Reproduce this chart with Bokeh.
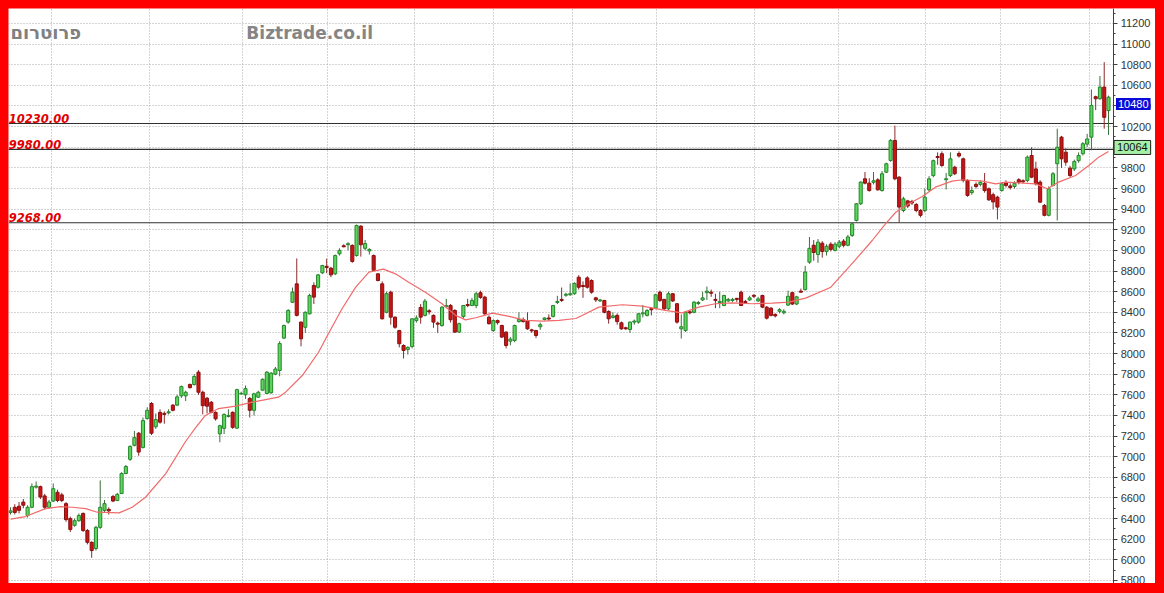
import numpy as np
from bokeh.plotting import figure
from bokeh.models import ColumnDataSource, Range1d, FixedTicker, Label, BoxAnnotation
from bokeh.embed import file_html
from bokeh.resources import INLINE

# ---------------- data ----------------
opens = [6460, 6510, 6520, 6560, 6430, 6510, 6705, 6710, 6620, 6510,
         6570, 6655, 6630, 6545, 6400, 6335, 6380, 6450, 6285, 6170,
         6110, 6315, 6480, 6490, 6615, 6575, 6643, 6837, 6975, 7110,
         7228, 7090, 7370, 7516, 7290, 7430, 7420, 7425, 7500, 7500,
         7590, 7590, 7700, 7700, 7820, 7625, 7567, 7528, 7430, 7222,
         7275, 7390, 7430, 7277, 7610, 7600, 7565, 7450, 7577, 7645,
         7613, 7620, 7800, 7836, 8150, 8305, 8497, 8676, 8305, 8255,
         8385, 8660, 8643, 8783, 8845, 8828, 8773, 8967, 9045, 9055,
         9048, 8950, 9235, 9020, 8995, 8950, 8773, 8676, 8400, 8595,
         8353, 8223, 8078, 8040, 8068, 8320, 8447, 8370, 8415, 8370,
         8295, 8272, 8455, 8466, 8418, 8208, 8360, 8475, 8466, 8466,
         8590, 8547, 8353, 8223, 8320, 8272, 8208, 8120, 8127, 8310,
         8330, 8320, 8230, 8223, 8260, 8330, 8345, 8360, 8495, 8525,
         8565, 8570, 8580, 8740, 8660, 8733, 8708, 8540, 8510, 8515,
         8408, 8350, 8370, 8298, 8250, 8233, 8305, 8305, 8385, 8370,
         8435, 8440, 8595, 8525, 8434, 8580, 8483, 8240, 8223, 8405,
         8400, 8485, 8520, 8590, 8595, 8525, 8495, 8466, 8510, 8515,
         8535, 8595, 8505, 8520, 8565, 8510, 8563, 8450, 8440, 8380,
         8410, 8395, 8470, 8590, 8480, 8605, 8620, 8886, 9050, 8960,
         9070, 8990, 9060, 9000, 9040, 9090, 9050, 9145, 9290, 9452,
         9694, 9652, 9660, 9684, 9580, 9758, 9872, 10066, 9710, 9387,
         9480, 9475, 9445, 9387, 9387, 9587, 9725, 9910, 9937, 9685,
         9725, 9807, 9940, 9888, 9678, 9560, 9640, 9640, 9650, 9597,
         9540, 9516, 9580, 9655, 9625, 9620, 9685, 9675, 9678, 9920,
         9790, 9662, 9436, 9340, 9630, 9840, 10098, 9952, 9797, 9790,
         9870, 9937, 10030, 10098, 10490, 10470, 10583, 10355]
highs = [6510, 6540, 6560, 6590, 6530, 6740, 6760, 6720, 6640, 6580,
         6740, 6680, 6650, 6560, 6420, 6400, 6450, 6460, 6300, 6180,
         6330, 6770, 6580, 6510, 6630, 6650, 6850, 6920, 7110, 7250,
         7240, 7380, 7480, 7530, 7420, 7460, 7440, 7460, 7510, 7600,
         7690, 7640, 7710, 7800, 7840, 7640, 7580, 7540, 7440, 7310,
         7420, 7460, 7440, 7660, 7630, 7690, 7580, 7620, 7640, 7760,
         7830, 7820, 7870, 8120, 8280, 8430, 8640, 8922, 8310, 8410,
         8580, 8690, 8770, 8860, 8920, 8840, 8960, 9020, 9060, 9080,
         9060, 9250, 9245, 9100, 9020, 8960, 8780, 8700, 8600, 8610,
         8360, 8230, 8090, 8070, 8340, 8370, 8480, 8530, 8430, 8380,
         8310, 8460, 8530, 8480, 8430, 8300, 8470, 8530, 8540, 8600,
         8610, 8560, 8370, 8330, 8330, 8280, 8215, 8160, 8280, 8400,
         8350, 8400, 8240, 8230, 8300, 8350, 8380, 8470, 8560, 8640,
         8590, 8680, 8690, 8760, 8700, 8750, 8720, 8550, 8530, 8520,
         8420, 8400, 8390, 8310, 8260, 8310, 8330, 8390, 8470, 8430,
         8450, 8580, 8610, 8530, 8600, 8585, 8490, 8380, 8410, 8420,
         8510, 8510, 8600, 8650, 8620, 8580, 8600, 8570, 8540, 8540,
         8540, 8610, 8520, 8560, 8575, 8550, 8570, 8460, 8450, 8390,
         8440, 8430, 8610, 8600, 8560, 8630, 8850, 9130, 9100, 9110,
         9090, 9060, 9080, 9080, 9100, 9110, 9150, 9270, 9460, 9670,
         9760, 9700, 9760, 9700, 9770, 9850, 10080, 10210, 9720, 9520,
         9490, 9490, 9460, 9400, 9600, 9720, 9880, 9950, 9960, 9750,
         9950, 9820, 9960, 9900, 9690, 9620, 9660, 9680, 9750, 9610,
         9560, 9530, 9660, 9680, 9650, 9670, 9700, 9690, 9920, 10000,
         9860, 9680, 9450, 9620, 9760, 10180, 10110, 9990, 9820, 9880,
         9950, 10050, 10130, 10560, 10500, 10690, 10825, 10500]
lows = [6440, 6440, 6450, 6500, 6410, 6500, 6690, 6590, 6490, 6500,
        6560, 6560, 6560, 6370, 6270, 6320, 6370, 6270, 6150, 6020,
        6090, 6300, 6460, 6440, 6560, 6570, 6640, 6830, 6960, 7100,
        7010, 7080, 7360, 7210, 7270, 7320, 7320, 7410, 7440, 7490,
        7570, 7540, 7660, 7690, 7600, 7410, 7420, 7420, 7350, 7140,
        7220, 7380, 7270, 7270, 7600, 7560, 7380, 7400, 7570, 7640,
        7610, 7610, 7790, 7780, 8140, 8290, 8490, 8360, 8070, 8200,
        8380, 8480, 8630, 8770, 8780, 8740, 8760, 8950, 9030, 9000,
        8880, 8940, 8940, 9000, 8960, 8800, 8700, 8330, 8390, 8280,
        8240, 8060, 7952, 7990, 8050, 8300, 8290, 8360, 8380, 8250,
        8200, 8260, 8440, 8300, 8200, 8200, 8340, 8450, 8460, 8440,
        8530, 8370, 8280, 8210, 8280, 8150, 8050, 8080, 8110, 8300,
        8300, 8230, 8200, 8150, 8230, 8320, 8320, 8350, 8480, 8500,
        8550, 8560, 8570, 8620, 8540, 8630, 8580, 8500, 8500, 8390,
        8290, 8340, 8280, 8230, 8230, 8200, 8280, 8290, 8350, 8360,
        8370, 8430, 8500, 8420, 8420, 8500, 8290, 8146, 8210, 8380,
        8390, 8470, 8510, 8520, 8550, 8440, 8440, 8460, 8500, 8500,
        8500, 8460, 8480, 8510, 8540, 8500, 8440, 8330, 8360, 8350,
        8390, 8380, 8460, 8470, 8470, 8590, 8610, 8870, 8900, 8880,
        8930, 8950, 8990, 8990, 9020, 9030, 9040, 9130, 9280, 9440,
        9640, 9570, 9640, 9580, 9570, 9750, 9860, 9680, 9270, 9370,
        9410, 9440, 9370, 9320, 9370, 9570, 9710, 9830, 9810, 9590,
        9710, 9730, 9900, 9660, 9520, 9540, 9600, 9620, 9560, 9480,
        9400, 9300, 9570, 9610, 9590, 9600, 9640, 9650, 9660, 9700,
        9630, 9460, 9330, 9330, 9620, 9290, 9800, 9820, 9710, 9770,
        9850, 9920, 10000, 9970, 10360, 10460, 10180, 10120]
closes = [6475, 6460, 6480, 6530, 6510, 6710, 6715, 6610, 6510, 6560,
          6690, 6575, 6575, 6390, 6295, 6380, 6430, 6285, 6170, 6090,
          6315, 6510, 6545, 6475, 6570, 6635, 6837, 6905, 7100, 7185,
          7045, 7350, 7450, 7228, 7360, 7335, 7410, 7435, 7450, 7580,
          7680, 7625, 7670, 7778, 7625, 7495, 7490, 7430, 7367, 7300,
          7410, 7400, 7285, 7650, 7615, 7660, 7450, 7610, 7625, 7750,
          7820, 7810, 7850, 8097, 8272, 8418, 8595, 8370, 8143, 8400,
          8563, 8547, 8763, 8854, 8835, 8763, 8950, 9000, 9035, 9065,
          8893, 9242, 9055, 9067, 9010, 8805, 8708, 8337, 8580, 8353,
          8255, 8095, 8030, 8060, 8337, 8345, 8353, 8508, 8405, 8305,
          8285, 8450, 8465, 8328, 8208, 8290, 8466, 8465, 8515, 8580,
          8545, 8386, 8290, 8320, 8300, 8160, 8078, 8140, 8272, 8330,
          8310, 8240, 8220, 8175, 8280, 8345, 8335, 8466, 8505, 8515,
          8575, 8580, 8680, 8643, 8650, 8643, 8595, 8520, 8520, 8400,
          8337, 8365, 8310, 8240, 8240, 8305, 8315, 8386, 8395, 8418,
          8425, 8570, 8515, 8434, 8580, 8510, 8305, 8260, 8400, 8395,
          8498, 8495, 8540, 8605, 8585, 8515, 8505, 8563, 8525, 8525,
          8525, 8466, 8495, 8540, 8555, 8530, 8450, 8343, 8370, 8365,
          8425, 8410, 8555, 8480, 8550, 8595, 8790, 9020, 8980, 9080,
          8990, 9040, 9010, 9060, 9080, 9050, 9130, 9258, 9452, 9662,
          9652, 9580, 9675, 9587, 9743, 9840, 10066, 9694, 9420, 9500,
          9430, 9460, 9387, 9340, 9516, 9694, 9870, 9900, 9823, 9695,
          9888, 9743, 9915, 9678, 9533, 9580, 9620, 9660, 9580, 9490,
          9470, 9420, 9645, 9630, 9610, 9650, 9660, 9665, 9904, 9710,
          9645, 9468, 9340, 9597, 9743, 10000, 9888, 9855, 9726, 9862,
          9920, 10034, 10080, 10405, 10470, 10583, 10290, 10485]

# moving average line, read at bar positions
ma_x = [0, 3.5, 8.2, 11.7, 14.4, 17.6, 20.3, 25.4, 28.5, 31.6,
        36.3, 41.0, 43.3, 45.6, 48.7, 52.7, 56.6, 62.7, 64.4, 68.3,
        72.1, 74.4, 77.6, 80.8, 83.9, 87.3, 90.1, 93.2, 97.1, 101.0,
        104.2, 106.5, 108.9, 112.8, 116.7, 120.6, 124.5, 128.4, 132.3, 133.8,
        137.7, 143.2, 147.9, 153.3, 157.2, 161.1, 165.0, 168.9, 173.6, 178.3,
        182.2, 186.1, 191.9, 196.6, 201.7, 204.8, 207.2, 210.3, 213.4, 216.5,
        220.4, 222.8, 227.5, 230.6, 232.9, 239.9, 242.7, 245.3, 249.3, 252.4,
        254.7, 257.0]
ma_val = [6395, 6420, 6497, 6517, 6510, 6497, 6462, 6456, 6510, 6607,
          6834, 7150, 7280, 7400, 7467, 7490, 7529, 7577, 7626, 7787,
          8013, 8192, 8434, 8644, 8789, 8818, 8773, 8692, 8595, 8483,
          8370, 8327, 8347, 8392, 8360, 8321, 8314, 8321, 8340, 8369,
          8450, 8473, 8460, 8418, 8395, 8450, 8483, 8492, 8483, 8489,
          8498, 8537, 8640, 8854, 9096, 9258, 9370, 9452, 9523, 9613,
          9671, 9685, 9671, 9645, 9662, 9645, 9597, 9662, 9726, 9823,
          9904, 9959]

levels = [10230, 9980, 9268]
level_labels = ["10230.00", "9980.00", "9268.00"]
y_ticks = list(range(5800, 11201, 200))
y_minor = list(range(5700, 11401, 100))
month_ticks = [9.6, 32.5, 54.3, 74.2, 94.6, 113.1, 131.6, 151.2, 174.2, 193.8, 214.2, 231.7, 252.6]
last_price_text = "10480"
last_price_y = 10420
ma_box_text = "10064"
ma_box_y = 9998

# layout constants (bar-index units)
X0, XAXIS, XEND = -0.47, 258.2, 268.0

# ---------------- figure ----------------
p = figure(width=1147, height=575, output_backend="svg", toolbar_location=None,
           x_range=Range1d(X0, XEND), y_range=Range1d(5771, 11345),
           x_axis_location=None, y_axis_location="right",
           min_border_left=0, min_border_top=0, min_border_bottom=0, min_border_right=0,
           background_fill_color="white", border_fill_color="white",
           outline_line_color=None)

ax = p.yaxis[0]
ax.fixed_location = XAXIS
ax.ticker = FixedTicker(ticks=y_ticks, minor_ticks=y_minor)
ax.axis_line_color = "#404040"
ax.major_tick_line_color = "#404040"
ax.minor_tick_line_color = "#404040"
ax.major_tick_out = 4
ax.major_tick_in = 0
ax.minor_tick_out = 2
ax.minor_tick_in = 0
ax.major_label_standoff = 3
ax.major_label_text_font = "Liberation Sans"
ax.major_label_text_font_size = "11px"
ax.major_label_text_color = "#333333"

p.ygrid.ticker = FixedTicker(ticks=y_ticks)
p.xgrid.ticker = FixedTicker(ticks=month_ticks)
for g in (p.xgrid, p.ygrid):
    g.grid_line_color = "#a8a8a8"
    g.grid_line_dash = "1 2"
    g.grid_line_width = 1

# blank strip right of the axis (hides grid there)
p.add_layout(BoxAnnotation(left=XAXIS, right=XEND, fill_color="white", fill_alpha=1.0,
                           line_alpha=0, level="underlay"))

# level lines
lv_src = ColumnDataSource(dict(y=levels, x0=[X0] * len(levels), x1=[XAXIS] * len(levels)))
p.segment(x0="x0", x1="x1", y0="y", y1="y", source=lv_src, line_color="#303030", line_width=1.2)
for lv, txt in zip(levels, level_labels):
    p.add_layout(Label(x=-0.4, y=lv, text=txt, text_color="#e00000",
                       text_font="DejaVu Sans", text_font_style="bold italic",
                       text_font_size="11.5px", text_baseline="alphabetic",
                       text_align="left", y_offset=5))

# watermark texts
p.add_layout(Label(x=0, y=11112, text="פרוטרום", text_color="#808080",
                   text_font="DejaVu Sans", text_font_style="bold",
                   text_font_size="18px", text_baseline="middle", text_align="left"))
p.add_layout(Label(x=55.2, y=11112, text="Biztrade.co.il", text_color="#858585",
                   text_font="DejaVu Sans", text_font_style="bold",
                   text_font_size="17px", text_baseline="middle", text_align="left"))

# candles
o = np.array(opens, dtype=float)
h = np.array(highs, dtype=float)
l = np.array(lows, dtype=float)
c = np.array(closes, dtype=float)
idx = np.arange(len(c))
up = c >= o
dn = ~up

src_up = ColumnDataSource(dict(x=idx[up], top=c[up], bottom=o[up], h=h[up], l=l[up]))
src_dn = ColumnDataSource(dict(x=idx[dn], top=o[dn], bottom=c[dn], h=h[dn], l=l[dn]))

p.segment(x0="x", y0="h", x1="x", y1="l", source=src_up, line_color="#3c6e3c", line_width=1)
p.segment(x0="x", y0="h", x1="x", y1="l", source=src_dn, line_color="#8a2a2a", line_width=1)
p.vbar(x="x", top="top", bottom="bottom", width=0.72, source=src_up,
       fill_color="#5ed65e", line_color="#23862a", line_width=1)
p.vbar(x="x", top="top", bottom="bottom", width=0.72, source=src_dn,
       fill_color="#cc1414", line_color="#861010", line_width=1)

# moving average
p.line(ma_x, ma_val, line_color="#f06a6a", line_width=1.2)

# right side value boxes
p.add_layout(Label(x=258.75, y=last_price_y, text=last_price_text, text_color="white",
                   text_font="Liberation Sans", text_font_size="11px",
                   text_baseline="middle", text_align="left",
                   background_fill_color="#0a0ad8", padding=2))
p.add_layout(Label(x=258.3, y=ma_box_y, text=ma_box_text, text_color="#111111",
                   text_font="Liberation Sans", text_font_size="11px",
                   text_baseline="middle", text_align="left",
                   background_fill_color="#a6f0a6", border_line_color="#202020",
                   border_line_width=1, padding=3))

html = file_html(p, INLINE)
html = html.replace("</head>",
                    "<style>html{background:#ff0000;} body{background:#ff0000; padding:8px !important;}</style></head>", 1)
open("out.html", "w").write(html)
